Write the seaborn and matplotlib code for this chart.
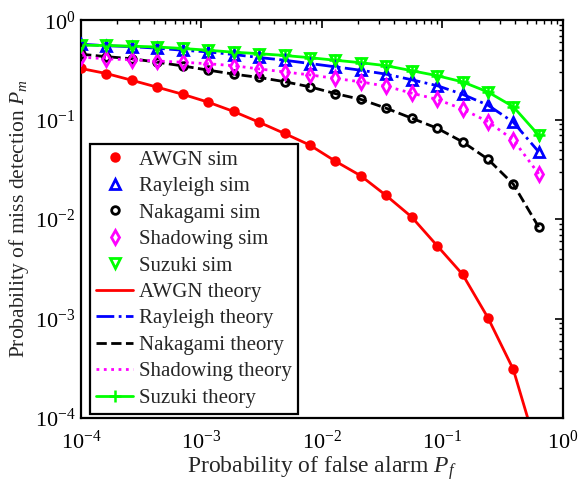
import matplotlib
matplotlib.use("Agg")
import matplotlib.pyplot as plt
import seaborn as sns
import pandas as pd

# Pf values (log-spaced sample points)
pf = [1.0e-4, 1.625e-4, 2.64e-4, 4.30e-4, 6.98e-4, 1.136e-3, 1.847e-3, 3.0e-3,
      4.89e-3, 7.94e-3, 0.0129, 0.021, 0.0341, 0.0555, 0.0903, 0.147, 0.239,
      0.388, 0.631]

pm_awgn = [0.327, 0.291, 0.249, 0.212, 0.180, 0.150, 0.121, 0.0944, 0.0727,
           0.0555, 0.0383, 0.0273, 0.0173, 0.01054, 0.00542, 0.00279, 0.00102,
           0.000309, 4.25e-5]
pm_rayleigh = [0.574, 0.554, 0.542, 0.523, 0.499, 0.480, 0.452, 0.422, 0.396,
               0.367, 0.340, 0.314, 0.287, 0.252, 0.220, 0.180, 0.140, 0.0944,
               0.0475]
pm_nakagami = [0.455, 0.430, 0.410, 0.378, 0.347, 0.315, 0.287, 0.266, 0.241,
               0.214, 0.183, 0.160, 0.1305, 0.1036, 0.0822, 0.0599, 0.0401,
               0.0225, 0.00832]
pm_shadowing = [0.425, 0.410, 0.399, 0.389, 0.378, 0.365, 0.349, 0.324, 0.302,
                0.282, 0.260, 0.240, 0.217, 0.185, 0.160, 0.128, 0.0955, 0.0627,
                0.0285]
pm_suzuki = [0.561, 0.557, 0.548, 0.538, 0.520, 0.499, 0.477, 0.461, 0.442,
             0.420, 0.396, 0.374, 0.349, 0.311, 0.277, 0.240, 0.190, 0.135,
             0.0698]

sns.set_theme(style="white")
plt.rcParams["font.family"] = ["Liberation Serif", "DejaVu Serif"]
plt.rcParams["mathtext.fontset"] = "custom"
plt.rcParams["mathtext.rm"] = "Liberation Serif"
plt.rcParams["mathtext.it"] = "Liberation Serif:italic"

fig = plt.figure(figsize=(5.79, 4.93), dpi=100)
ax = fig.add_axes([0.140, 0.152, 0.832, 0.807])

# simulation markers
sims = [
    ("AWGN sim", pm_awgn, "o", "red", "red", 5.5),
    ("Rayleigh sim", pm_rayleigh, "^", "blue", "none", 6.5),
    ("Nakagami sim", pm_nakagami, "o", "black", "none", 5.5),
    ("Shadowing sim", pm_shadowing, "d", "magenta", "none", 7),
    ("Suzuki sim", pm_suzuki, "v", "lime", "none", 7),
]
for name, vals, mk, col, face, ms in sims:
    sns.lineplot(x=pf, y=vals, ax=ax, linestyle="", marker=mk, markersize=ms,
                 markeredgecolor=col, markerfacecolor=face, markeredgewidth=2,
                 color=col, label=name, zorder=3)

# theory curves
theories = [
    ("AWGN theory", pm_awgn, "-", "red", ""),
    ("Rayleigh theory", pm_rayleigh, "-.", "blue", ""),
    ("Nakagami theory", pm_nakagami, "--", "black", ""),
    ("Shadowing theory", pm_shadowing, ":", "magenta", ""),
    ("Suzuki theory", pm_suzuki, "-", "lime", "+"),
]
for name, vals, ls, col, mk in theories:
    sns.lineplot(x=pf, y=vals, ax=ax, linestyle=ls, color=col, linewidth=2,
                 marker=mk if mk else None, markersize=8, markeredgewidth=1.8,
                 markeredgecolor=col, label=name, zorder=2)

ax.set_xscale("log")
ax.set_yscale("log")
ax.set_xlim(1e-4, 1)
ax.set_ylim(1e-4, 1)

for sp in ax.spines.values():
    sp.set_linewidth(1.6)
    sp.set_color("black")
ax.tick_params(which="both", direction="in", top=True, right=True,
               colors="black", labelsize=16)
ax.tick_params(which="major", length=6, width=1.2)
ax.tick_params(which="minor", length=3, width=1)
ax.tick_params(axis="x", pad=9)
ax.tick_params(axis="y", pad=4)

ax.set_xlabel("Probability of false alarm $P_f$", fontsize=17, labelpad=0)
ax.set_ylabel("Probability of miss detection $P_m$", fontsize=15.5, labelpad=3)

leg = ax.legend(loc="lower left", bbox_to_anchor=(0.018, 0.01), fontsize=15,
                frameon=True, fancybox=False, framealpha=1, edgecolor="black",
                labelspacing=0.33, handlelength=1.8, handletextpad=0.25,
                borderpad=0.3, borderaxespad=0)
leg.get_frame().set_linewidth(1.6)

fig.savefig("out.png", dpi=100)
